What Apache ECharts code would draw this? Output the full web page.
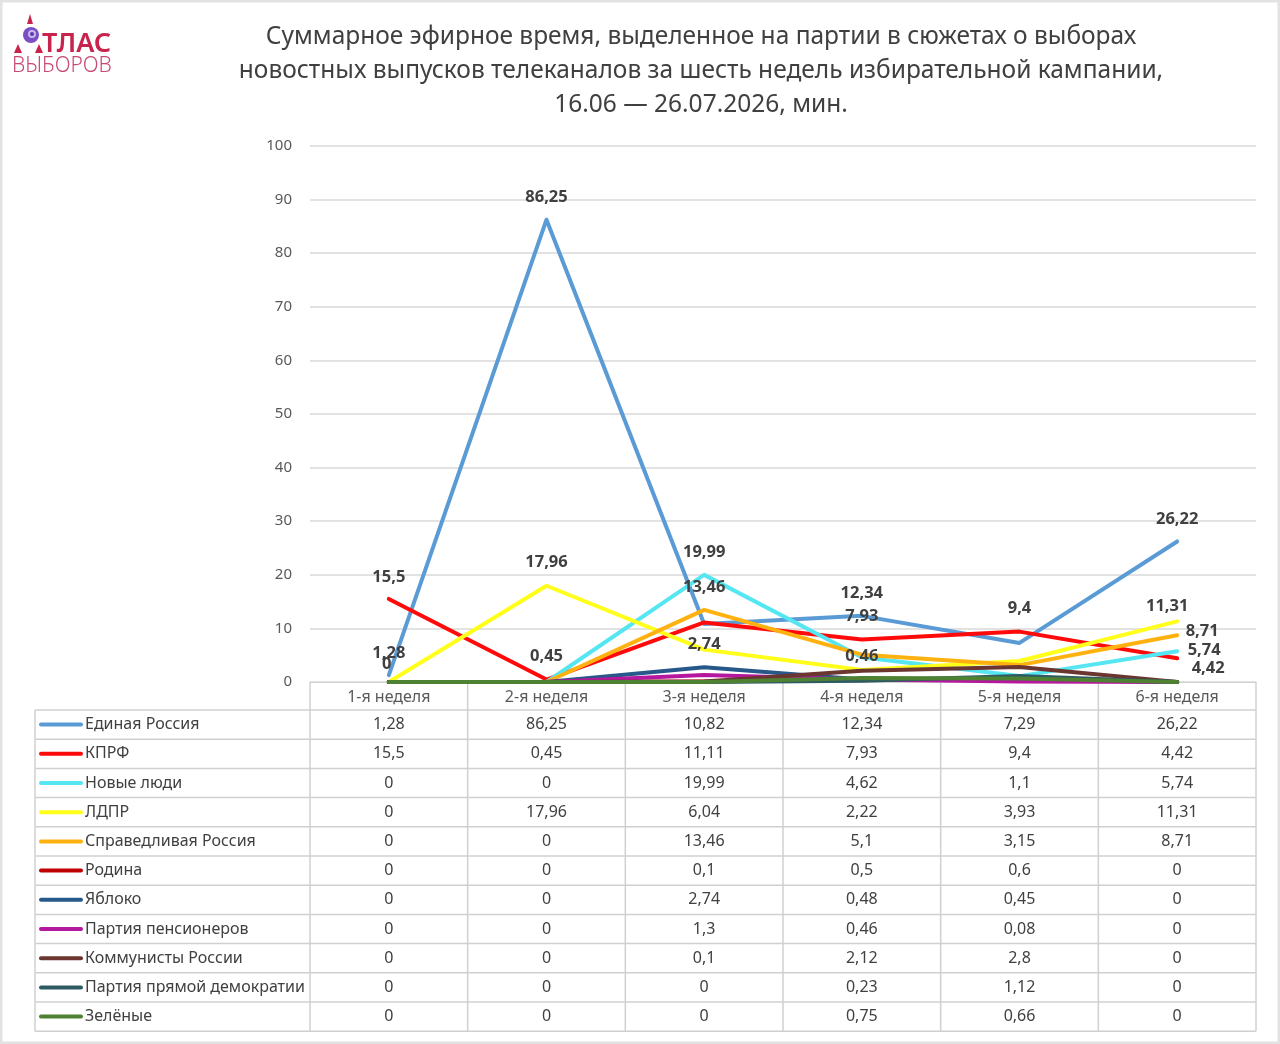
<!DOCTYPE html>
<html>
<head>
<meta charset="utf-8">
<script src="https://cdn.jsdelivr.net/npm/echarts@6/dist/echarts.min.js"></script>
<style>
  html, body { margin: 0; padding: 0; background: #fff; }
  #chart { width: 1280px; height: 1044px; }
</style>
</head>
<body>
<div id="chart"></div>
<script>
// недели и партии
const weeks = ['1-я неделя', '2-я неделя', '3-я неделя', '4-я неделя', '5-я неделя', '6-я неделя'];
const parties = ['Единая Россия', 'КПРФ', 'Новые люди', 'ЛДПР', 'Справедливая Россия', 'Родина',
  'Яблоко', 'Партия пенсионеров', 'Коммунисты России', 'Партия прямой демократии', 'Зелёные'];
const yTicks = [0, 10, 20, 30, 40, 50, 60, 70, 80, 90, 100];

// минуты по неделям
const edinayaRossiya = [1.28, 86.25, 10.82, 12.34, 7.29, 26.22];
const kprf = [15.5, 0.45, 11.11, 7.93, 9.4, 4.42];
const novyeLyudi = [0, 0, 19.99, 4.62, 1.1, 5.74];
const ldpr = [0, 17.96, 6.04, 2.22, 3.93, 11.31];
const spravRossiya = [0, 0, 13.46, 5.1, 3.15, 8.71];
const rodina = [0, 0, 0.1, 0.5, 0.6, 0];
const yabloko = [0, 0, 2.74, 0.48, 0.45, 0];
const pensionery = [0, 0, 1.3, 0.46, 0.08, 0];
const kommunisty = [0, 0, 0.1, 2.12, 2.8, 0];
const pryamayaDem = [0, 0, 0, 0.23, 1.12, 0];
const zelenye = [0, 0, 0, 0.75, 0.66, 0];

const seriesValues = [edinayaRossiya, kprf, novyeLyudi, ldpr, spravRossiya, rodina,
  yabloko, pensionery, kommunisty, pryamayaDem, zelenye];

const colors = ['#5b9bd5', '#ff0a0a', '#55e6f2', '#ffff1a', '#ffb20f', '#c00000',
  '#27588a', '#b5179e', '#6b3530', '#2e5a63', '#4f8132'];

// подписи значений: [партия, неделя, сдвиг x, сдвиг y] относительно точки
const labelMarks = [
  [0, 0, 0, -24], [1, 0, 0, -24], [3, 0, -2, -20],
  [0, 1, 0, -24], [3, 1, 0, -25], [1, 1, 0, -25],
  [2, 2, 0, -25], [4, 2, 0, -25], [6, 2, 0, -25],
  [0, 3, 0, -25], [1, 3, 0, -25], [7, 3, 0, -25],
  [1, 4, 0, -25],
  [0, 5, 0, -24], [3, 5, -10, -17], [4, 5, 25, -6], [2, 5, 27, -3], [1, 5, 31, 8]
];

const FONT = '"Noto Sans", "Open Sans", sans-serif';
const fmt = v => String(v).replace('.', ',');

const chart = echarts.init(document.getElementById('chart'));

const series = parties.map((name, pi) => ({
  name,
  type: 'line',
  showSymbol: true,
  symbol: 'circle',
  symbolSize: 2,
  animation: false,
  lineStyle: { width: 4, color: colors[pi], cap: 'round', join: 'round' },
  itemStyle: { color: colors[pi] },
  labelLayout: { hideOverlap: false },
  z: 2 + pi,
  data: seriesValues[pi].map((v, wi) => {
    const mark = labelMarks.find(m => m[0] === pi && m[1] === wi);
    if (!mark) return v;
    return {
      value: v,
      label: {
        show: true,
        position: [1 + mark[2], 3 + mark[3]],
        align: 'center',
        verticalAlign: 'middle',
        formatter: p => fmt(p.value),
        color: '#404040',
        fontWeight: 'bold',
        fontSize: 16.5,
        fontFamily: FONT
      }
    };
  })
}));

chart.setOption({
  backgroundColor: '#fff',
  animation: false,
  grid: { left: 310, right: 24, top: 146, bottom: 362 },
  xAxis: {
    type: 'category',
    data: weeks,
    boundaryGap: true,
    axisLine: { lineStyle: { color: '#d0d0d0', width: 1 } },
    axisTick: { show: false },
    axisLabel: { color: '#595959', fontSize: 16, fontFamily: FONT, margin: 7 }
  },
  yAxis: {
    type: 'value',
    min: yTicks[0],
    max: yTicks[yTicks.length - 1],
    interval: 10,
    axisLine: { show: false },
    axisTick: { show: false },
    axisLabel: { color: '#595959', fontSize: 15, fontFamily: FONT, margin: 18 },
    splitLine: { lineStyle: { color: '#d9d9d9', width: 1.5 } }
  },
  series
});

// таблица данных под графиком
const buildTable = () => {
  const centers = weeks.map((w, i) => chart.convertToPixel({ xAxisIndex: 0 }, i));
  const step = centers[1] - centers[0];
  const axisY = chart.convertToPixel({ yAxisIndex: 0 }, 0);
  const tableTop = axisY + 28;
  const rowH = 29.2;
  const tableBottom = tableTop + rowH * parties.length;
  const tableLeft = 35;
  const plotLeft = centers[0] - step / 2;
  const plotRight = centers[centers.length - 1] + step / 2;
  const lineColor = '#d0d0d0';
  const els = [];

  // рамка страницы
  els.push({ type: 'rect', shape: { x: 1, y: 1, width: 1278, height: 1042 },
    style: { fill: 'none', stroke: '#e2e2e2', lineWidth: 3 }, silent: true });

  for (let r = 0; r <= parties.length; r++) {
    const y = tableTop + r * rowH;
    els.push({ type: 'line', shape: { x1: tableLeft, y1: y, x2: plotRight, y2: y },
      style: { stroke: lineColor, lineWidth: 1.5 } });
  }
  els.push({ type: 'line', shape: { x1: tableLeft, y1: tableTop, x2: tableLeft, y2: tableBottom },
    style: { stroke: lineColor, lineWidth: 1.5 } });
  for (let c = 0; c <= weeks.length; c++) {
    const x = plotLeft + c * step;
    els.push({ type: 'line', shape: { x1: x, y1: axisY, x2: x, y2: tableBottom },
      style: { stroke: lineColor, lineWidth: 1.5 } });
  }

  parties.forEach((name, pi) => {
    const cy = tableTop + rowH * pi + rowH / 2;
    els.push({ type: 'line', shape: { x1: 41, y1: cy, x2: 81, y2: cy },
      style: { stroke: colors[pi], lineWidth: 4, lineCap: 'round' } });
    els.push({ type: 'text', style: { text: name, x: 85, y: cy, fill: '#404040',
      font: '16px ' + FONT, align: 'left', verticalAlign: 'middle' } });
    seriesValues[pi].forEach((v, wi) => {
      els.push({ type: 'text', style: { text: fmt(v), x: centers[wi], y: cy, fill: '#404040',
        font: '16px ' + FONT, align: 'center', verticalAlign: 'middle' } });
    });
  });

  // заголовок
  const titleLines = [
    'Суммарное эфирное время, выделенное на партии в сюжетах о выборах',
    'новостных выпусков телеканалов за шесть недель избирательной кампании,',
    '16.06 — 26.07.2026, мин.'
  ];
  titleLines.forEach((t, i) => {
    els.push({ type: 'text', style: { text: t, x: 701, y: 37 + i * 34, fill: '#404040',
      font: '24.5px ' + FONT, align: 'center', verticalAlign: 'middle' } });
  });

  // логотип
  els.push({ type: 'polygon', shape: { points: [[27, 24], [30, 14], [33, 24]] }, style: { fill: '#c8234a' } });
  els.push({ type: 'polygon', shape: { points: [[14, 53], [18, 44], [22, 53]] }, style: { fill: '#c8234a' } });
  els.push({ type: 'polygon', shape: { points: [[35, 53], [39, 44], [43, 53]] }, style: { fill: '#c8234a' } });
  els.push({ type: 'circle', shape: { cx: 31, cy: 35, r: 8 }, style: { fill: '#7a4fc4' } });
  els.push({ type: 'circle', shape: { cx: 32, cy: 34, r: 4 }, style: { fill: '#c9b8f0' } });
  els.push({ type: 'circle', shape: { cx: 32, cy: 34, r: 2 }, style: { fill: '#5a3aa8' } });
  els.push({ type: 'text', style: { text: 'ТЛАС', x: 42, y: 44, fill: '#c8234a',
    font: '600 27px ' + FONT, align: 'left', verticalAlign: 'middle' } });
  els.push({ type: 'text', style: { text: 'ВЫБОРОВ', x: 12, y: 66, fill: '#c74a72',
    font: '300 21px ' + FONT, align: 'left', verticalAlign: 'middle' } });

  chart.setOption({ graphic: els });
};

buildTable();
</script>
</body>
</html>
